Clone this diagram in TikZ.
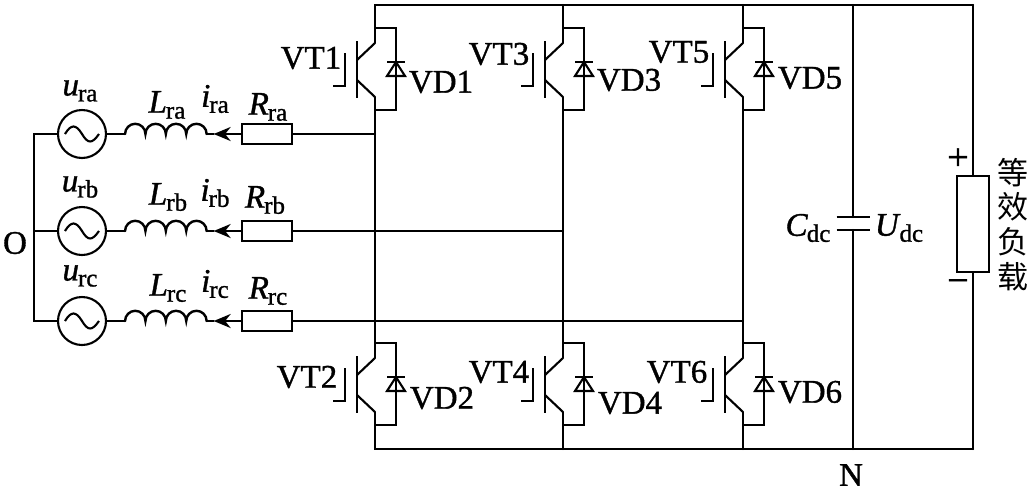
\documentclass[tikz,border=0pt]{standalone}
\usepackage{fontspec}
\setmainfont{Liberation Serif}[RawFeature={embolden=1.1}]
\newfontfamily\cjkfont{Noto Sans CJK SC}
\usetikzlibrary{positioning,arrows.meta}
\begin{document}
\begin{tikzpicture}[x=1pt, y=-1pt]
  \newcommand{\varsub}[2]{\textit{#1}\kern-1pt\raisebox{-6pt}{\fontsize{25}{25}\selectfont #2}}
  \newcommand{\coilarcs}[1]{\draw [wire] (#1.west) arc [start angle=180, end angle=0, radius=10.2pt] arc [start angle=180, end angle=0, radius=10.2pt] arc [start angle=180, end angle=0, radius=10.2pt] arc [start angle=180, end angle=0, radius=10.2pt];}
  \newcommand{\sinewave}[1]{\draw [thinwire] ([xshift=-17pt]#1.center) .. controls +(6,-10) and +(-6,-10) .. (#1.center) .. controls +(6,10) and +(-7,10) .. ([xshift=17pt]#1.center);}
  \newcommand{\igbtcell}[3]{
    \begin{scope}[shift={(#2,#3)}]
      \coordinate (#1top) at (0,-15);
      \coordinate (#1bot) at (0,67);
      \draw [thinwire] (-18,-2) -- (-18,55);
      \draw [thinwire] (-30,10) -- (-30,43) -- (-42,43);
      \draw [thinwire] (0,0) -- (-18,17);
      \draw [thinwire] (-18,37) -- (0,54);
      \draw [wire] (0,0) -- (#1top) -- (21,-15) -- (21,67) -- (#1bot) -- (0,54);
      \draw [thinwire] (12,19) -- (30,19);
      \draw [thinwire] (21,19) -- (12,33) -- (30,33) -- cycle;
    \end{scope}
  }
  \tikzstyle{wire}     = [line width=2.4pt, line cap=round, line join=miter]
  \tikzstyle{thinwire} = [line width=2.1pt]
  \tikzstyle{txt}      = [inner sep=0pt, font=\fontsize{33}{35}\selectfont]
  \tikzstyle{sign}     = [inner sep=0pt, font=\fontsize{38}{38}\selectfont]
  \tikzstyle{source}   = [circle, draw, line width=2.1pt, minimum size=48pt, inner sep=0pt]
  \tikzstyle{coil}     = [minimum width=81.6pt, minimum height=0pt, inner sep=0pt, outer sep=0pt]
  \tikzstyle{res}      = [rectangle, draw, line width=2.4pt, minimum width=50pt, minimum height=20pt, inner sep=0pt]
  \tikzstyle{flow}     = [-{Stealth[length=17pt, width=14pt]}, line width=2.4pt]
  \useasboundingbox (0,0) rectangle (1033,491);
  % sources and phase branches
  \node [source] (srca) at (82,134) {};
  \node [source] (srcb) at (82,231) {};
  \node [source] (srcc) at (82,321) {};
  \node [coil, right = 18pt of srca] (coila) {};
  \node [coil, right = 18pt of srcb] (coilb) {};
  \node [coil, right = 18pt of srcc] (coilc) {};
  \coordinate [right = 7pt of coila] (tipa);
  \coordinate [right = 7pt of coilb] (tipb);
  \coordinate [right = 7pt of coilc] (tipc);
  \node [res, right = 34pt of coila] (resa) {};
  \node [res, right = 34pt of coilb] (resb) {};
  \node [res, right = 34pt of coilc] (resc) {};
  \sinewave{srca}
  \sinewave{srcb}
  \sinewave{srcc}
  \coilarcs{coila}
  \coilarcs{coilb}
  \coilarcs{coilc}
  \draw [flow] (resa) -- (tipa);
  \draw [flow] (resb) -- (tipb);
  \draw [flow] (resc) -- (tipc);
  \draw [wire] (tipa) -- (coila.east);
  \draw [wire] (tipb) -- (coilb.east);
  \draw [wire] (tipc) -- (coilc.east);
  \draw [wire] (srca) -- (coila);
  \draw [wire] (srcb) -- (coilb);
  \draw [wire] (srcc) -- (coilc);
  \coordinate (busa) at (34,134);
  \coordinate (busb) at (34,231);
  \coordinate (busc) at (34,321);
  \draw [wire] (srca) -- (busa) -- (busc) -- (srcc);
  \draw [wire] (busb) -- (srcb);
  % bridge
  \igbtcell{vta}{375}{43}
  \igbtcell{vtb}{563}{43}
  \igbtcell{vtc}{743}{43}
  \igbtcell{vtd}{375}{358}
  \igbtcell{vte}{563}{358}
  \igbtcell{vtf}{743}{358}
  \coordinate (topa) at (375,5);
  \coordinate (topb) at (563,5);
  \coordinate (topc) at (743,5);
  \coordinate (topd) at (853,5);
  \coordinate (tope) at (973,5);
  \coordinate (bota) at (375,449);
  \coordinate (botb) at (563,449);
  \coordinate (botc) at (743,449);
  \coordinate (botd) at (853,449);
  \coordinate (bote) at (973,449);
  \draw [wire] (vtatop) -- (topa) -- (tope);
  \draw [wire] (vtdbot) -- (bota) -- (bote);
  \draw [wire] (topb) -- (vtbtop);
  \draw [wire] (topc) -- (vtctop);
  \draw [wire] (vtebot) -- (botb);
  \draw [wire] (vtfbot) -- (botc);
  \draw [wire] (vtabot) -- (vtdtop);
  \draw [wire] (vtbbot) -- (vtetop);
  \draw [wire] (vtcbot) -- (vtftop);
  \draw [wire] (resa) -- (resa -| vtabot);
  \draw [wire] (resb) -- (resb -| vtbbot);
  \draw [wire] (resc) -- (resc -| vtcbot);
  % dc side
  \node [minimum width=33pt, minimum height=13pt, inner sep=0pt, outer sep=0pt] (cap) at (853,223.5) {};
  \node [rectangle, draw, line width=2.4pt, minimum width=32pt, minimum height=96pt, inner sep=0pt] (load) at (973,224) {};
  \draw [thinwire] (cap.north west) -- (cap.north east);
  \draw [thinwire] (cap.south west) -- (cap.south east);
  \draw [wire] (topd) -- (cap.north);
  \draw [wire] (cap.south) -- (botd);
  \draw [wire] (tope) -- (load);
  \draw [wire] (load) -- (bote);
  \node [sign] (plus)  at (958,159) {+};
  \node [sign] (minus) at (958,286) {\char"2212};
  % labels
  \node [txt] (ua) at (80,91)  {\varsub{u}{ra}};
  \node [txt] (ub) at (80,187) {\varsub{u}{rb}};
  \node [txt] (uc) at (80,276) {\varsub{u}{rc}};
  \node [txt] (la) at (167,105) {\varsub{L}{ra}};
  \node [txt] (lb) at (168,197) {\varsub{L}{rb}};
  \node [txt] (lc) at (168,288) {\varsub{L}{rc}};
  \node [txt] (ia) at (215,99)  {\varsub{i}{ra}};
  \node [txt] (ib) at (215,193) {\varsub{i}{rb}};
  \node [txt] (ic) at (215,284) {\varsub{i}{rc}};
  \node [txt] (ra) at (268,107) {\varsub{R}{ra}};
  \node [txt] (rb) at (265,200) {\varsub{R}{rb}};
  \node [txt] (rc) at (268,291) {\varsub{R}{rc}};
  \node [txt] (ptO) at (15,243)  {O};
  \node [txt] (ptN) at (851,475) {N};
  \node [txt] (nta) at (311,58)  {VT1};
  \node [txt] (ntb) at (499,54)  {VT3};
  \node [txt] (ntc) at (679,52)  {VT5};
  \node [txt] (ntd) at (307,377) {VT2};
  \node [txt] (nte) at (499,372) {VT4};
  \node [txt] (ntf) at (677,372) {VT6};
  \node [txt] (nda) at (441,82)  {VD1};
  \node [txt] (ndb) at (629,80)  {VD3};
  \node [txt] (ndc) at (810,78)  {VD5};
  \node [txt] (ndd) at (442,398) {VD2};
  \node [txt] (nde) at (630,403) {VD4};
  \node [txt] (ndf) at (810,392) {VD6};
  \node [txt] (cdc) at (808,228) {\varsub{C}{dc}};
  \node [txt] (udc) at (899,228) {\varsub{U}{dc}};
  \node [txt, font=\fontsize{31}{34}\cjkfont] (eqa) at (1013,173) {等};
  \node [txt, font=\fontsize{31}{34}\cjkfont] (eqb) at (1013,207) {效};
  \node [txt, font=\fontsize{31}{34}\cjkfont] (eqc) at (1013,242) {负};
  \node [txt, font=\fontsize{31}{34}\cjkfont] (eqd) at (1013,277) {载};
\end{tikzpicture}
\end{document}
